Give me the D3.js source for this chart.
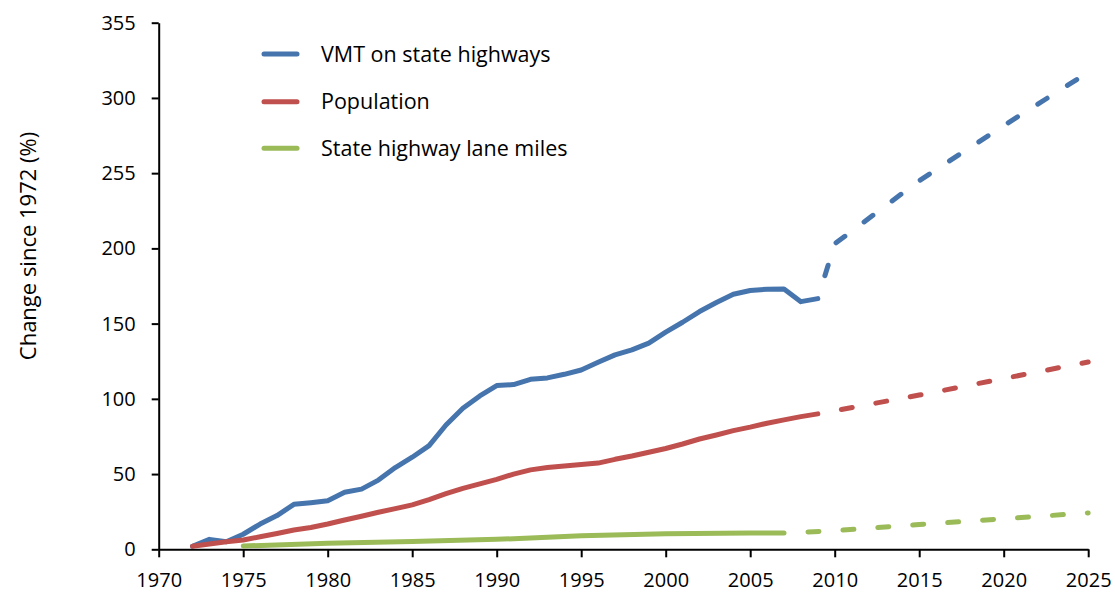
<!DOCTYPE html>
<html><head><meta charset="utf-8">
<script src="https://cdn.jsdelivr.net/npm/d3@7/dist/d3.min.js"></script>
<style>
body{margin:0;background:#fff}
text{font-family:"Open Sans",sans-serif;fill:#000}
</style>
</head><body>
<svg id="c" width="1115" height="594"></svg>
<script>
// ---- data ----
const actualYears = d3.range(1972, 2010); // 1972..2009
const vmtActual = [2,6.6,5,10,16.8,22.4,29.9,31,32.3,37.9,40,46,54.3,61.2,68.9,82.6,93.7,101.9,108.8,109.5,113,113.9,116.3,119.2,124.3,129.2,132.5,137,144.3,150.9,158,164,169.5,172,172.9,173,164.6,166.6];
const popActual = [2,3.5,5,6.2,8.3,10.5,12.8,14.5,16.8,19.5,22,24.6,27,29.5,33,37,40.5,43.5,46.5,50,52.8,54.3,55.4,56.3,57.3,59.8,62,64.5,67,70,73.3,76,78.9,81.2,83.8,86,88.2,90];
const laneYears = [1975,1980,1985,1990,1995,2000,2005,2007];
const laneActual = [2.2,4,5.2,6.6,9,10.4,10.8,10.8];

const vmtProjYears = [2009,2010,2015,2020,2025];
const vmtProj = [166.6,203,245,281.6,317];
const popProjYears = [2009,2015,2020,2025];
const popProj = [90,102.5,113.5,124.5];
const laneProjYears = [2007,2010,2015,2020,2025];
const laneProj = [10.8,12.4,16.5,20.3,24.2];

const seriesNames = ["VMT on state highways","Population","State highway lane miles"];
const seriesColors = ["#4674ad","#c0504d","#9bbb59"];
const yTickValues = [0,50,100,150,200,250,300,350];
const yTickLabels = ["0","50","100","150","200","255","300","355"];
const xTickValues = [1970,1975,1980,1985,1990,1995,2000,2005,2010,2015,2020,2025];
const yTitle = "Change since 1972 (%)";

// ---- chart ----
const svg = d3.select("#c");
const x = d3.scaleLinear().domain([1970,2025]).range([158.7,1088.2]);
const y = d3.scaleLinear().domain([0,350]).range([549.3,22.7]);

const line = d3.line().x(d=>x(d[0])).y(d=>y(d[1]));
const zip = (a,b)=>a.map((v,i)=>[v,b[i]]);

const solid = [zip(actualYears,vmtActual), zip(actualYears,popActual), zip(laneYears,laneActual)];
const dashed = [zip(vmtProjYears,vmtProj), zip(popProjYears,popProj), zip(laneProjYears,laneProj)];

const gx = svg.append("g").attr("transform",`translate(0,${y(0)})`)
  .call(d3.axisBottom(x).tickValues(xTickValues).tickFormat(d3.format("d")).tickSize(8).tickSizeOuter(0).tickPadding(16));
const gy = svg.append("g").attr("transform",`translate(${x(1970)},0)`)
  .call(d3.axisLeft(y).tickValues(yTickValues).tickFormat((d,i)=>yTickLabels[i]).tickSize(7).tickSizeOuter(0).tickPadding(16));
[gx,gy].forEach(g=>{
  g.selectAll("path.domain").attr("stroke","#000").attr("stroke-width",2);
  g.selectAll(".tick line").attr("stroke","#000").attr("stroke-width",2);
  g.selectAll(".tick text").attr("font-size",20).attr("font-family","'Open Sans',sans-serif").attr("fill","#000");
});

svg.append("text").attr("transform","translate(28,246) rotate(-90)")
  .attr("text-anchor","middle").attr("dy","0.35em").attr("font-size",22).text(yTitle);

solid.forEach((d,i)=>{
  svg.append("path").attr("d",line(d)).attr("fill","none").attr("stroke",seriesColors[i])
    .attr("stroke-width",5).attr("stroke-linecap","round").attr("stroke-linejoin","round");
});
dashed.forEach((d,i)=>{
  svg.append("path").attr("d",line(d)).attr("fill","none").attr("stroke",seriesColors[i])
    .attr("stroke-width",5).attr("stroke-linecap","round").attr("stroke-linejoin","round")
    .attr("stroke-dasharray","11,24").attr("stroke-dashoffset",11);
});

// legend
const legY = [54,101.7,148.3];
seriesNames.forEach((n,i)=>{
  svg.append("line").attr("x1",264).attr("x2",297).attr("y1",legY[i]).attr("y2",legY[i])
    .attr("stroke",seriesColors[i]).attr("stroke-width",5).attr("stroke-linecap","round");
  svg.append("text").attr("x",321).attr("y",legY[i]).attr("dy","0.35em").attr("font-size",21.5).text(n);
});
</script>
</body></html>
